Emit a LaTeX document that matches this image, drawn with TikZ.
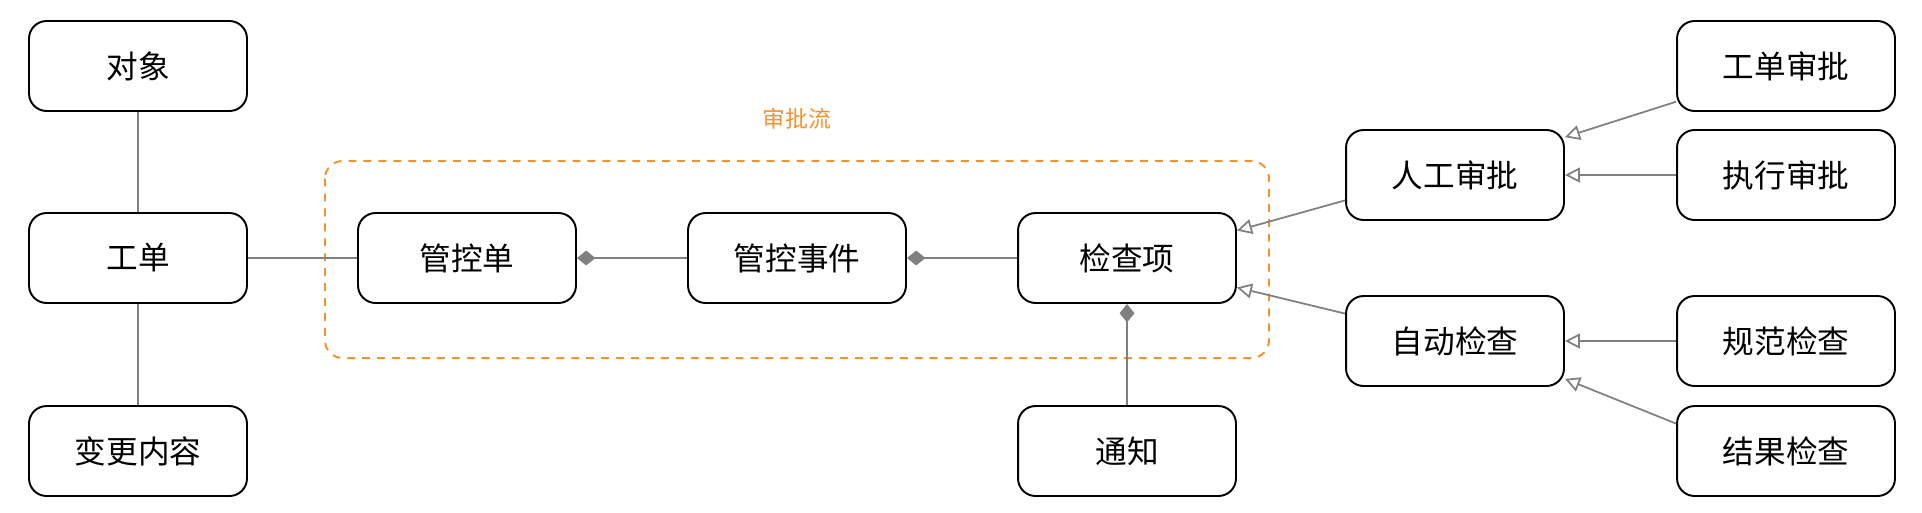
\documentclass[tikz,border=0pt]{standalone}
\usepackage{fontspec}
\setmainfont{Noto Sans CJK SC}
\usepackage{tikz}
\usetikzlibrary{arrows.meta,positioning}
\usepackage{xcolor}
\definecolor{linegray}{HTML}{808080}
\definecolor{floworange}{HTML}{F5922F}

\tikzset{
  box/.style={draw, line width=1.1pt, rounded corners=10pt,
    minimum width=4.36cm, minimum height=1.8cm,
    font=\fontsize{18}{22}\selectfont},
  link/.style={draw=linegray, line width=1pt},
  isa/.style={link, -{Triangle[open, length=8.5pt, width=8.5pt]}},
  hasone/.style={link, {Diamond[length=10.5pt, width=8.5pt]}-},
  hasend/.style={link, -{Diamond[length=10.5pt, width=8.5pt]}},
  flowbox/.style={draw=floworange, line width=1.1pt, rounded corners=10pt,
    dash pattern=on 4.5pt off 4pt}
}

\begin{document}
\begin{tikzpicture}[x=0.02cm, y=-0.02cm]
    \useasboundingbox (0,0) rectangle (1922,512);

    % approval flow frame
    \draw[flowbox] (325,161) rectangle (1269,358);
    \node[text=floworange, font=\fontsize{13}{15}\selectfont] (spl) at (797,119) {审批流};

    % left column
    \node[box] (dx) at (138,66) {对象};
    \node[box] (gd) at (138,258) {工单};
    \node[box] (bgnr) at (138,451) {变更内容};

    % middle row
    \node[box] (gkd) at (467,258) {管控单};
    \node[box] (gksj) at (797,258) {管控事件};
    \node[box] (jcx) at (1127,258) {检查项};
    \node[box] (tz) at (1127,451) {通知};

    % checks
    \node[box] (rgsp) at (1455,175) {人工审批};
    \node[box] (zdjc) at (1455,341) {自动检查};
    \node[box] (gdsp) at (1786,66) {工单审批};
    \node[box] (zxsp) at (1786,175) {执行审批};
    \node[box] (gfjc) at (1786,341) {规范检查};
    \node[box] (jgjc) at (1786,451) {结果检查};

    % links
    \draw[link] (dx) -- (gd);
    \draw[link] (gd) -- (bgnr);
    \draw[link] (gd) -- (gkd);
    \draw[hasone] (gkd) -- (gksj);
    \draw[hasone] (gksj) -- (jcx);
    \draw[hasend] (tz) -- (jcx);

    \draw[isa] (rgsp.193) -- (jcx.14);
    \draw[isa] (zdjc.166) -- (jcx.345);
    \draw[isa] (gdsp.198) -- (rgsp.19);
    \draw[isa] (zxsp) -- (rgsp);
    \draw[isa] (gfjc) -- (zdjc);
    \draw[isa] (jgjc.166) -- (zdjc.341);
\end{tikzpicture}
\end{document}
